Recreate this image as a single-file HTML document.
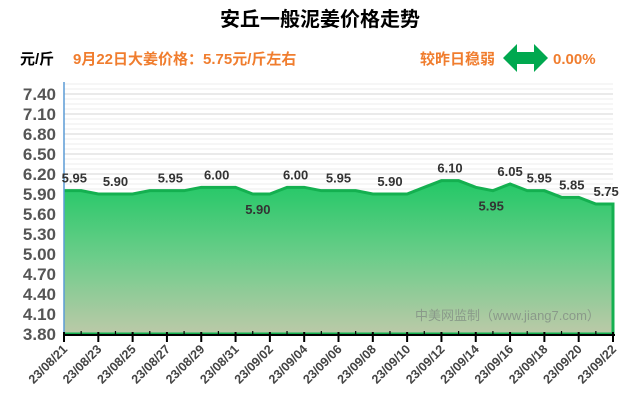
<!DOCTYPE html>
<html><head><meta charset="utf-8"><style>
body{margin:0;background:#fff;font-family:"Liberation Sans","Noto Sans CJK SC",sans-serif;}
#wrap{position:relative;width:640px;height:410px;overflow:hidden;}
</style></head><body>
<div id="wrap">
<svg id="chart" width="640" height="410" xmlns="http://www.w3.org/2000/svg">
<defs>
<linearGradient id="fillg" x1="0" y1="0" x2="0" y2="1">
<stop offset="0" stop-color="#22c866"/>
<stop offset="0.5" stop-color="#6ccd8a"/>
<stop offset="1" stop-color="#bcc9a8"/>
</linearGradient>
</defs>
<text x="320" y="26" text-anchor="middle" font-size="20" font-weight="bold" fill="#000">安丘一般泥姜价格走势</text>
<text x="20" y="64" font-size="15" font-weight="bold" fill="#000">元/斤</text>
<text x="73" y="64" font-size="15" font-weight="bold" fill="#f07d2e">9月22日大姜价格：5.75元/斤左右</text>
<text x="420" y="64" font-size="15" font-weight="bold" fill="#f07d2e">较昨日稳弱</text>
<polygon points="503,58 517,44 517,52 534,52 534,44 548,58 534,72 534,64 517,64 517,72" fill="#00a84f"/>
<text x="553" y="64" font-size="15" font-weight="bold" fill="#f07d2e">0.00%</text>
<g id="grid"></g>
<g id="area"></g>
<g id="axes"></g>
<g id="labels"></g>
<text x="415" y="320" font-size="13" fill="#8a9a8a">中美网监制（www.jiang7.com）</text>
</svg>
</div>
<script>
const dates=["23/08/21","23/08/22","23/08/23","23/08/24","23/08/25","23/08/26","23/08/27","23/08/28","23/08/29","23/08/30","23/08/31","23/09/01","23/09/02","23/09/03","23/09/04","23/09/05","23/09/06","23/09/07","23/09/08","23/09/09","23/09/10","23/09/11","23/09/12","23/09/13","23/09/14","23/09/15","23/09/16","23/09/17","23/09/18","23/09/19","23/09/20","23/09/21","23/09/22"];
const prices=[5.95,5.95,5.90,5.90,5.90,5.95,5.95,5.95,6.00,6.00,6.00,5.90,5.90,6.00,6.00,5.95,5.95,5.95,5.90,5.90,5.90,6.00,6.10,6.10,6.00,5.95,6.05,5.95,5.95,5.85,5.85,5.75,5.75];
const yTicks=[3.80,4.10,4.40,4.70,5.00,5.30,5.60,5.90,6.20,6.50,6.80,7.10,7.40];
const labelPos=[0.6,3,6.2,8.9,11.3,13.5,16,19,22.5,24.9,26,27.7,29.6,31.6];
const labelVals=[5.95,5.90,5.95,6.00,5.90,6.00,5.95,5.90,6.10,5.95,6.05,5.95,5.85,5.75];
const labelBelow=[0,0,0,0,1,0,0,0,0,1,0,0,0,0];
const NS="http://www.w3.org/2000/svg";
const L=64,R=613,B=334,T=82,yMin=3.8,yMax=7.4,yTopPix=94;
const X=i=>L+i*(R-L)/(dates.length-1);
const Y=v=>B-(v-yMin)/(yMax-yMin)*(B-yTopPix);
function mk(tag,attrs,parent){const e=document.createElementNS(NS,tag);for(const k in attrs)e.setAttribute(k,attrs[k]);parent.appendChild(e);return e;}
const grid=document.getElementById('grid'),axes=document.getElementById('axes'),area=document.getElementById('area'),labels=document.getElementById('labels');
// minor gridlines
for(let v=yMin;v<=yMax+0.2;v+=0.075){
  const y=Y(v); if(y<T)break;
  const ln=mk('line',{x1:L,x2:R,y1:y,y2:y,stroke:'#ececec','stroke-width':1},grid);
  
  
}
yTicks.forEach(v=>{
  const y=Y(v);
  const ln=mk('line',{x1:L,x2:R,y1:y,y2:y,stroke:'#d4d4d4','stroke-width':1},grid);
  
  
  const t=mk('text',{x:56,y:y+6,'text-anchor':'end','font-size':17,'font-weight':'bold',fill:'#555'},axes);
  t.textContent=v.toFixed(2);
  
  
});
// area
let d='M'+X(0)+','+B;
prices.forEach((p,i)=>{d+=' L'+X(i)+','+Y(p);});
d+=' L'+X(prices.length-1)+','+B+' Z';
const ar=mk('path',{d:d,fill:'url(#fillg)'},area);


let ld='';
prices.forEach((p,i)=>{ld+=(i?' L':'M')+X(i)+','+Y(p);});
ld+=' L'+X(prices.length-1)+','+B+' L'+X(0)+','+B;
const ln=mk('path',{d:ld,fill:'none',stroke:'#14b050','stroke-width':3},area);


// axes
const ya=mk('line',{x1:L,x2:L,y1:T,y2:B,stroke:'#5b9bd5','stroke-width':1.5},axes);


const xa=mk('line',{x1:L,x2:R+2,y1:B+1,y2:B+1,stroke:'#000','stroke-width':2},axes);


dates.forEach((dt,i)=>{
  const x=X(i),major=i%2===0;
  const tk=mk('line',{x1:x,x2:x,y1:major?B-2:B-3,y2:major?B+8:B+1,stroke:'#000','stroke-width':major?2:1.2},axes);
  
  
  if(major){
    const t=mk('text',{x:x+4,y:B+16,'text-anchor':'end','font-size':12.5,'font-weight':'bold',fill:'#444',transform:'rotate(-45 '+(x+4)+' '+(B+16)+')'},axes);
    t.textContent=dt;
    
    
  }
});
labelPos.forEach((p,k)=>{
  const v=labelVals[k];
  const y=labelBelow[k]?Y(v)+20:Y(v)-8;
  const t=mk('text',{x:X(p),y:y,'text-anchor':'middle','font-size':13,'font-weight':'bold',fill:'#333'},labels);
  t.textContent=v.toFixed(2);
  
  
});
</script>
</body></html>
